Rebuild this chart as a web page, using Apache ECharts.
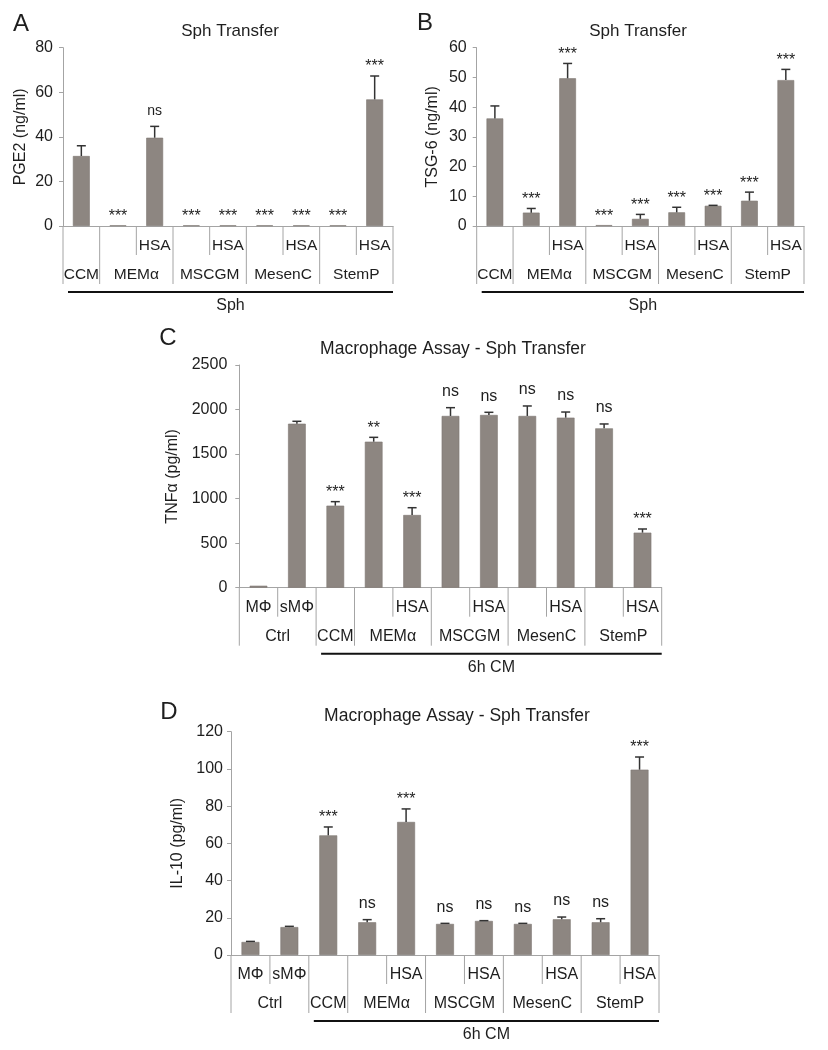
<!DOCTYPE html>
<html><head><meta charset="utf-8">
<script src="https://cdn.jsdelivr.net/npm/echarts@6/dist/echarts.min.js"></script>
<style>html,body{margin:0;padding:0;background:#fff}#c{width:828px;height:1050px}</style>
</head><body><div id="c"></div>
<script>
// ---------- DATA ----------
// Panel A: PGE2
const catsA = ['', '', 'HSA', '', 'HSA', '', 'HSA', '', 'HSA'];
const groupsA = ['CCM', 'MEMα', 'MSCGM', 'MesenC', 'StemP'];
const spansA = [1, 2, 2, 2, 2];
const valA = [31.4, 0.3, 39.6, 0.3, 0.3, 0.3, 0.3, 0.3, 56.8];
const errA = [4.6, 0, 5.1, 0, 0, 0, 0, 0, 10.5];
const sigA = ['', '***', 'ns', '***', '***', '***', '***', '***', '***'];
const ticksA = [0, 20, 40, 60, 80];

// Panel B: TSG-6
const catsB = ['', '', 'HSA', '', 'HSA', '', 'HSA', '', 'HSA'];
const groupsB = ['CCM', 'MEMα', 'MSCGM', 'MesenC', 'StemP'];
const spansB = [1, 2, 2, 2, 2];
const valB = [36.2, 4.5, 49.7, 0.3, 2.4, 4.6, 6.8, 8.5, 49.1];
const errB = [4.2, 1.4, 5.0, 0, 1.5, 1.7, 0.15, 2.9, 3.6];
const sigB = ['', '***', '***', '***', '***', '***', '***', '***', '***'];
const ticksB = [0, 10, 20, 30, 40, 50, 60];

// Panel C: TNFα
const catsC = ['MΦ', 'sMΦ', '', '', 'HSA', '', 'HSA', '', 'HSA', '', 'HSA'];
const groupsC = ['Ctrl', 'CCM', 'MEMα', 'MSCGM', 'MesenC', 'StemP'];
const spansC = [2, 1, 2, 2, 2, 2];
const valC = [22, 1841, 921, 1639, 816, 1928, 1939, 1928, 1909, 1789, 618];
const errC = [0, 27, 45, 49, 82, 93, 30, 112, 63, 49, 41];
const sigC = ['', '', '***', '**', '***', 'ns', 'ns', 'ns', 'ns', 'ns', '***'];
const ticksC = [0, 500, 1000, 1500, 2000, 2500];

// Panel D: IL-10
const catsD = ['MΦ', 'sMΦ', '', '', 'HSA', '', 'HSA', '', 'HSA', '', 'HSA'];
const groupsD = ['Ctrl', 'CCM', 'MEMα', 'MSCGM', 'MesenC', 'StemP'];
const spansD = [2, 1, 2, 2, 2, 2];
const valD = [7.0, 15.0, 64.3, 17.6, 71.5, 16.7, 18.3, 16.7, 19.2, 17.6, 99.6];
const errD = [0.3, 0.4, 4.5, 1.4, 7.0, 0.3, 0.15, 0.3, 1.2, 1.9, 6.8];
const sigD = ['', '', '***', 'ns', '***', 'ns', 'ns', 'ns', 'ns', 'ns', '***'];
const ticksD = [0, 20, 40, 60, 80, 100, 120];

// ---------- STYLE / LAYOUT ----------
const FONT = '"Liberation Sans", Arial, Helvetica, sans-serif';
const TXT = '#1e1e1e';
const GRAY = '#a4a4a4';
const BAR = '#8d8681';

const panels = [
  { cats: catsA, groups: groupsA, spans: spansA, vals: valA, errs: errA, sigs: sigA, ticks: ticksA,
    name: 'PGE2 (ng/ml)', nameGap: 34, labelMargin: 10, bracketStart: 0, bracketLabel: 'Sph',
    grid: { left: 63, top: 47.7, width: 330, height: 178.3 }, fsCat: 15.5, fsNs: 14 },
  { cats: catsB, groups: groupsB, spans: spansB, vals: valB, errs: errB, sigs: sigB, ticks: ticksB,
    name: 'TSG-6 (ng/ml)', nameGap: 36, labelMargin: 10, bracketStart: 0, bracketLabel: 'Sph',
    grid: { left: 476.7, top: 47.7, width: 327.3, height: 178.3 }, fsCat: 15.5, fsNs: 14 },
  { cats: catsC, groups: groupsC, spans: spansC, vals: valC, errs: errC, sigs: sigC, ticks: ticksC,
    name: 'TNFα (pg/ml)', nameGap: 50, labelMargin: 12, bracketStart: 2, bracketLabel: '6h CM',
    grid: { left: 239.3, top: 365, width: 422.4, height: 222.7 }, fsCat: 16, fsNs: 16 },
  { cats: catsD, groups: groupsD, spans: spansD, vals: valD, errs: errD, sigs: sigD, ticks: ticksD,
    name: 'IL-10 (pg/ml)', nameGap: 43, labelMargin: 8, bracketStart: 2, bracketLabel: '6h CM',
    grid: { left: 231, top: 731.7, width: 428, height: 223.3 }, fsCat: 16, fsNs: 16 }
];

function font(sz) { return sz + 'px ' + FONT; }

function tableRenderer(p) {
  const starts = {}; let s = 0;
  p.spans.forEach((n, gi) => { starts[s] = gi; s += n; });
  return function (params, api) {
    const i = api.value(0);
    const c = api.coord([i, 0]);
    const w = api.size([1, 0])[0];
    const x0 = c[0] - w / 2, x1 = c[0] + w / 2, y = c[1];
    const ls = { stroke: GRAY, lineWidth: 1 };
    const isStart = starts[i] !== undefined;
    const ch = [];
    ch.push({ type: 'line', shape: { x1: x0, y1: y, x2: x0, y2: y + (isStart ? 58 : 29) }, style: ls });
    if (i === p.cats.length - 1) ch.push({ type: 'line', shape: { x1: x1, y1: y, x2: x1, y2: y + 58 }, style: ls });
    if (p.cats[i]) ch.push({ type: 'text', style: { text: p.cats[i], x: c[0], y: y + 20, textAlign: 'center', textVerticalAlign: 'middle', font: font(p.fsCat), fill: TXT } });
    if (isStart) {
      const gi = starts[i];
      ch.push({ type: 'text', style: { text: p.groups[gi], x: x0 + p.spans[gi] * w / 2, y: y + 49, textAlign: 'center', textVerticalAlign: 'middle', font: font(p.fsCat), fill: TXT } });
    }
    if (i === p.bracketStart) {
      const xe = x0 + (p.cats.length - p.bracketStart) * w;
      ch.push({ type: 'line', shape: { x1: x0 + 5, y1: y + 66, x2: xe, y2: y + 66 }, style: { stroke: '#111', lineWidth: 2 } });
      ch.push({ type: 'text', style: { text: p.bracketLabel, x: (x0 + 5 + xe) / 2, y: y + 80, textAlign: 'center', textVerticalAlign: 'middle', font: font(16), fill: TXT } });
    }
    return { type: 'group', children: ch };
  };
}

function errRenderer(p) {
  return function (params, api) {
    const i = params.dataIndex;
    const v = p.vals[i], e = p.errs[i];
    const pb = api.coord([i, v]);
    const pt = api.coord([i, v + e]);
    const ch = [];
    const st = { stroke: '#333', lineWidth: 1.5 };
    if (e > 0) {
      ch.push({ type: 'line', shape: { x1: pb[0], y1: pb[1], x2: pt[0], y2: pt[1] }, style: st });
      ch.push({ type: 'line', shape: { x1: pt[0] - 4.5, y1: pt[1], x2: pt[0] + 4.5, y2: pt[1] }, style: st });
    }
    const sg = p.sigs[i];
    if (sg) {
      const ns = sg === 'ns';
      ch.push({ type: 'text', style: { text: sg, x: pt[0], y: pt[1] - (ns ? 8 : 1), textAlign: 'center', textVerticalAlign: 'bottom', font: font(ns ? p.fsNs : 16), fill: TXT } });
    }
    return { type: 'group', children: ch };
  };
}

const grid = [], xAxis = [], yAxis = [], series = [];
panels.forEach((p, k) => {
  grid.push(p.grid);
  xAxis.push({ type: 'category', gridIndex: k, data: p.cats, axisLine: { show: true, lineStyle: { color: GRAY, width: 1 } },
    axisTick: { show: false }, axisLabel: { show: false }, splitLine: { show: false } });
  const t = p.ticks;
  yAxis.push({ type: 'value', gridIndex: k, min: t[0], max: t[t.length - 1], interval: t[1] - t[0],
    name: p.name, nameLocation: 'middle', nameRotate: 90, nameGap: p.nameGap,
    nameTextStyle: { fontFamily: FONT, fontSize: 16, color: TXT },
    axisLine: { show: true, lineStyle: { color: GRAY, width: 1 } },
    axisTick: { show: true, length: 4, lineStyle: { color: GRAY } },
    axisLabel: { fontFamily: FONT, fontSize: 16, color: TXT, margin: p.labelMargin, formatter: v => String(v) },
    splitLine: { show: false } });
  series.push({ type: 'bar', xAxisIndex: k, yAxisIndex: k, data: p.vals, barWidth: '46%',
    itemStyle: { color: BAR, borderColor: '#7e7772', borderWidth: 0.6 }, silent: true, animation: false });
  series.push({ type: 'custom', xAxisIndex: k, yAxisIndex: k, clip: false, z: 5, animation: false, silent: true,
    data: p.vals.map((v, i) => [i, v + p.errs[i]]), renderItem: errRenderer(p) });
  series.push({ type: 'custom', xAxisIndex: k, yAxisIndex: k, clip: false, z: 4, animation: false, silent: true,
    data: p.cats.map((c, i) => [i, 0]), renderItem: tableRenderer(p) });
});

const headings = [
  { t: 'A', x: 21, y: 24, s: 24 }, { t: 'B', x: 425, y: 23, s: 24 },
  { t: 'C', x: 168, y: 338, s: 24 }, { t: 'D', x: 169, y: 712, s: 24 },
  { t: 'Sph Transfer', x: 230, y: 31, s: 17 }, { t: 'Sph Transfer', x: 638, y: 31, s: 17 },
  { t: 'Macrophage Assay - Sph Transfer', x: 453, y: 349, s: 17.5 },
  { t: 'Macrophage Assay - Sph Transfer', x: 457, y: 716, s: 17.5 }
];

const chart = echarts.init(document.getElementById('c'), null, { renderer: 'canvas' });
chart.setOption({
  backgroundColor: '#fff',
  animation: false,
  grid, xAxis, yAxis, series,
  graphic: headings.map(h => ({ type: 'text', x: h.x, y: h.y, silent: true,
    style: { text: h.t, textAlign: 'center', textVerticalAlign: 'middle', font: font(h.s), fill: TXT } }))
});
</script></body></html>
